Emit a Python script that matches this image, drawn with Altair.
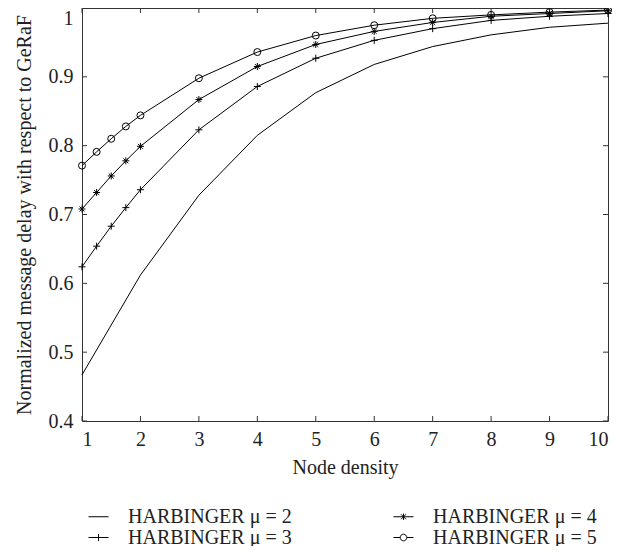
import altair as alt
import pandas as pd

# ---- data ----
x_fine = [1, 1.25, 1.5, 1.75, 2, 3, 4, 5, 6, 7, 8, 9, 10]
x_int = [1, 2, 3, 4, 5, 6, 7, 8, 9, 10]
mu2 = [0.467, 0.612, 0.728, 0.815, 0.877, 0.918, 0.944, 0.961, 0.972, 0.978]
mu3 = [0.624, 0.654, 0.683, 0.710, 0.736, 0.823, 0.886, 0.927, 0.953, 0.970, 0.982, 0.988, 0.992]
mu4 = [0.708, 0.732, 0.756, 0.778, 0.799, 0.867, 0.915, 0.947, 0.966, 0.979, 0.988, 0.992, 0.996]
mu5 = [0.771, 0.791, 0.810, 0.828, 0.844, 0.898, 0.936, 0.960, 0.975, 0.985, 0.990, 0.994, 0.997]
names = ["HARBINGER μ = 2", "HARBINGER μ = 3", "HARBINGER μ = 4", "HARBINGER μ = 5"]
x_ticks = [1, 2, 3, 4, 5, 6, 7, 8, 9, 10]
y_ticks = [0.4, 0.5, 0.6, 0.7, 0.8, 0.9, 1.0]

rows = []
for xs, ys, n in [(x_int, mu2, names[0]), (x_fine, mu3, names[1]),
                  (x_fine, mu4, names[2]), (x_fine, mu5, names[3])]:
    for a, b in zip(xs, ys):
        rows.append({"x": a, "y": b, "series": n})
df = pd.DataFrame(rows)
xt = pd.DataFrame({"x": x_ticks})
yt = pd.DataFrame({"y": y_ticks})

W, H = 526, 413
FONT = "Liberation Serif"
TXT = "#222222"
EDGE = "#333333"

X = alt.X("x:Q", scale=alt.Scale(domain=[1, 10], nice=False, zero=False),
          axis=alt.Axis(values=x_ticks, title="Node density", format="d",
                        ticks=False, tickSize=0, domain=False, grid=False,
                        labelPadding=8, titlePadding=8,
                        labelFont=FONT, labelFontSize=20, labelColor=TXT,
                        titleFont=FONT, titleFontSize=20, titleColor=TXT,
                        titleFontWeight="normal"))
Y = alt.Y("y:Q", scale=alt.Scale(domain=[0.4, 1.0], nice=False, zero=False),
          axis=alt.Axis(values=y_ticks, title="Normalized message delay with respect to GeRaF",
                        format=".1~f", ticks=False, tickSize=0, domain=False, grid=False,
                        labelPadding=9, titlePadding=14,
                        labelBaseline=alt.condition("datum.value == 1", alt.value("top"), alt.value("middle")),
                        labelFont=FONT, labelFontSize=20, labelColor=TXT,
                        titleFont=FONT, titleFontSize=20, titleColor=TXT,
                        titleFontWeight="normal"))

base = alt.Chart(df)
lines = base.mark_line(color="black", strokeWidth=1).encode(x=X, y=Y, detail="series:N")

plus = "M-1,0H1M0,-1V1"
star = "M-1,0H1M0,-1V1M-0.7,-0.7L0.7,0.7M-0.7,0.7L0.7,-0.7"
markers = base.transform_filter(alt.datum.series != names[0]).mark_point(
    filled=False, color="black", strokeWidth=1, size=49, opacity=1
).encode(
    x=X, y=Y,
    shape=alt.Shape("series:N", scale=alt.Scale(domain=names[1:], range=[plus, star, "circle"]),
                    legend=None),
)

leg_paths = [
    "M-1,0H1",
    "M-1,0H1M0,-0.35V0.35",
    "M-1,0H1M0,-0.32V0.32M-0.25,-0.25L0.25,0.25M-0.25,0.25L0.25,-0.25",
    "M-1,0H-0.33M0.33,0H1M-0.33,0A0.33,0.33,0,1,1,0.33,0A0.33,0.33,0,1,1,-0.33,0",
]
legend_layer = base.transform_filter("false").mark_point(
    filled=False, color="black", strokeWidth=1, size=400, opacity=1
).encode(
    x=X, y=Y,
    shape=alt.Shape("series:N", sort=None,
                    scale=alt.Scale(domain=names, range=leg_paths),
                    legend=alt.Legend(title=None, orient="none", legendX=6, legendY=498,
                                      columns=2, columnPadding=99, rowPadding=0,
                                      labelOffset=19, symbolSize=400, symbolStrokeWidth=1,
                                      symbolStrokeColor="black", symbolFillColor="transparent",
                                      labelFont=FONT, labelFontSize=20, labelColor=TXT,
                                      padding=0, labelLimit=400)),
)

tick_bottom = alt.Chart(xt).mark_rule(color=EDGE, strokeWidth=1).encode(
    x=X, y=alt.value(H), y2=alt.value(H - 5))
tick_top = alt.Chart(xt).mark_rule(color=EDGE, strokeWidth=1).encode(
    x=X, y=alt.value(0), y2=alt.value(5))
tick_left = alt.Chart(yt).mark_rule(color=EDGE, strokeWidth=1).encode(
    y=Y, x=alt.value(0), x2=alt.value(5))
tick_right = alt.Chart(yt).mark_rule(color=EDGE, strokeWidth=1).encode(
    y=Y, x=alt.value(W - 5), x2=alt.value(W))

chart = alt.layer(tick_bottom, tick_top, tick_left, tick_right, lines, markers, legend_layer).resolve_scale(
    shape="independent"
).properties(
    width=W, height=H,
    background="white",
    autosize=alt.AutoSizeParams(type="none"),
    padding={"left": 74, "top": 0, "right": 10, "bottom": 125},
).configure_view(
    stroke=EDGE, strokeWidth=1
)

chart.save("out.html", embed_options={"renderer": "svg", "actions": False})
